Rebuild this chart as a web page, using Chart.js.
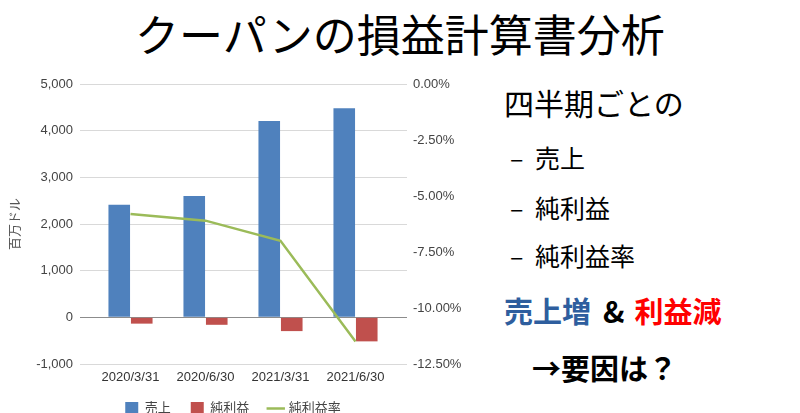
<!DOCTYPE html>
<html>
<head>
<meta charset="utf-8">
<script src="https://cdn.jsdelivr.net/npm/chart.js@4"></script>
<style>
  html, body { margin: 0; padding: 0; background: #fff; overflow: hidden; }
  body { width: 800px; height: 413px; position: relative; font-family: "Noto Sans CJK JP", sans-serif; }
  .title { position: absolute; left: 0; top: 5px; width: 800px; text-align: center; font-size: 44px; line-height: 56px; color: #000; }
  .chart-wrap { position: absolute; left: 0; top: 60px; width: 466px; height: 365px; }
  .note { position: absolute; left: 504px; color: #000; white-space: nowrap; }
  .note.head { top: 83px; font-size: 30px; line-height: 38px; }
  .note.item { font-size: 25px; line-height: 34px; left: 510px; }
  .note.item span { display: inline-block; width: 25px; }
  .note.big { font-size: 29px; line-height: 38px; font-weight: bold; }
  .amp { margin: 0 10px 0 12px; }
  .blue { color: #2e5e9e; }
  .red { color: #ff0000; }
</style>
</head>
<body>
<div class="title">クーパンの損益計算書分析</div>
<div class="chart-wrap"><canvas id="plChart"></canvas></div>

<div class="note head">四半期ごとの</div>
<div class="note item" style="top:140px"><span>–</span>売上</div>
<div class="note item" style="top:190px"><span>–</span>純利益</div>
<div class="note item" style="top:238px"><span>–</span>純利益率</div>
<div class="note big" style="top:291px"><span class="blue">売上増</span><span class="amp">&amp;</span><span class="red">利益減</span></div>
<div class="note big" style="top:348px; left:532px">→要因は？</div>

<script>
const quarters = ['2020/3/31', '2020/6/30', '2021/3/31', '2021/6/30']
const revenue = [2410, 2600, 4207, 4478]
const netIncome = [-135, -160, -295, -515]
const netMargin = [-5.8, -6.1, -7.0, -11.5]
const seriesNames = ['売上', '純利益', '純利益率']

const FONT = '"Liberation Sans", Arial, "Noto Sans CJK JP", sans-serif'
const gridColor = ctx => (ctx.tick && ctx.tick.value === 0) ? '#8c8c8c' : '#d9d9d9'

new Chart(document.getElementById('plChart'), {
  type: 'bar',
  data: {
    labels: quarters,
    datasets: [
      {
        type: 'line',
        label: seriesNames[2],
        data: netMargin,
        yAxisID: 'y1',
        borderColor: '#9bbb59',
        backgroundColor: '#9bbb59',
        borderWidth: 2.5,
        pointRadius: 0,
        pointStyle: 'line',
        tension: 0,
        order: 0
      },
      {
        label: seriesNames[0],
        data: revenue,
        yAxisID: 'y',
        backgroundColor: '#4f81bd',
        pointStyle: 'rect',
        order: 1
      },
      {
        label: seriesNames[1],
        data: netIncome,
        yAxisID: 'y',
        backgroundColor: '#c0504d',
        pointStyle: 'rect',
        order: 1
      }
    ]
  },
  options: {
    responsive: true, maintainAspectRatio: false,
    animation: false,
    layout: { padding: { top: 24, left: 0, right: 0, bottom: 0 } },
    datasets: { bar: { categoryPercentage: 0.6, barPercentage: 0.96 } },
    plugins: {
      tooltip: { enabled: false },
      legend: {
        position: 'bottom',
        labels: {
          color: '#444', font: { family: FONT, size: 13 },
          usePointStyle: true, boxWidth: 13, boxHeight: 13, padding: 20,
          sort: (a, b) => ((a.datasetIndex + 2) % 3) - ((b.datasetIndex + 2) % 3)
        }
      }
    },
    scales: {
      x: {
        grid: { display: false, drawTicks: false },
        border: { display: false },
        ticks: { color: '#333', font: { family: FONT, size: 13 }, padding: 6, maxRotation: 0 },
        afterFit: s => { s.height = 18 }
      },
      y: {
        position: 'left',
        min: -1000, max: 5000,
        ticks: { stepSize: 1000, color: '#444', font: { family: FONT, size: 13 }, padding: 7,
          callback: v => v.toLocaleString('en-US') },
        grid: { color: gridColor, tickLength: 13 },
        border: { display: false },
        title: { display: true, text: '百万ドル', color: '#555', font: { family: FONT, size: 13 }, padding: { top: 8, bottom: 0 } },
        afterFit: s => { s.width = 93 }
      },
      yGrid: {
        position: 'right',
        weight: 0,
        min: -1000, max: 5000,
        ticks: { display: false, stepSize: 1000 },
        grid: { color: gridColor, drawOnChartArea: false, tickLength: 14 },
        border: { display: false },
        afterFit: s => { s.width = 14 }
      },
      y1: {
        position: 'right',
        weight: 1,
        min: -12.5, max: 0,
        ticks: { stepSize: 2.5, color: '#444', font: { family: FONT, size: 13 }, padding: 6,
          callback: v => v.toFixed(2) + '%' },
        grid: { display: false, drawTicks: false },
        border: { display: false },
        afterFit: s => { s.width = 59 }
      }
    }
  }
})
</script>
</body>
</html>
